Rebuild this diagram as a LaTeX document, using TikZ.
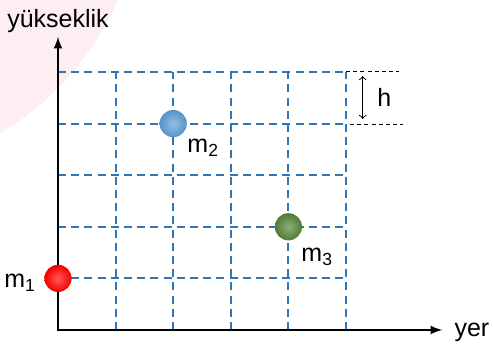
\documentclass[tikz,border=0pt]{standalone}
\usepackage{fontspec}
\setmainfont{Liberation Sans}
\definecolor{gridblue}{RGB}{46,117,182}
\definecolor{ballred}{RGB}{255,0,0}
\definecolor{ballblue}{RGB}{91,155,213}
\definecolor{ballgreen}{RGB}{84,130,53}
\definecolor{wmpink}{RGB}{252,238,241}

\begin{document}
\begin{tikzpicture}[x=28.8pt,y=25.8pt,
  every node/.style={font=\fontsize{12.5}{15}\selectfont},
  gridline/.style={gridblue, line width=1pt, dash pattern=on 4pt off 2.6pt},
  ball/.style={circle, minimum size=13.6pt, inner sep=0pt,
    inner color=#1!65!white, outer color=#1!95!black},
  lbl/.style={anchor=base west, inner sep=0pt}]
  \useasboundingbox (-1.007,-0.329) rectangle (7.552,6.395);
  \begin{scope}
    \clip (-1.007,-0.329) rectangle (7.552,6.395);
    \fill[wmpink] (-3.54,8.60) circle[radius=143.5pt];
  \end{scope}
  \draw[gridline, step=1] (0,0) grid (5,5);
  % axes
  \coordinate (O) at (0,0);
  \coordinate (ytip) at (0,5.68);
  \coordinate (xtip) at (6.67,0);
  \draw[line width=1pt, latex-latex] (ytip) -- (O) -- (xtip);
  \node[anchor=base, inner sep=0pt, yshift=4.5pt] (ylab) at (ytip) {yükseklik};
  \node[anchor=base west, inner sep=0pt, xshift=6pt, yshift=-3.5pt] (xlab) at (xtip) {yer};
  % h
  \coordinate (t1) at (5,5);
  \coordinate (t2) at (5.92,5);
  \coordinate (b1) at (5.07,3.98);
  \coordinate (b2) at (5.99,3.98);
  \draw[line width=0.5pt, dash pattern=on 2pt off 1.6pt] (t1) -- (t2);
  \draw[line width=0.5pt, dash pattern=on 2pt off 1.6pt] (b1) -- (b2);
  \coordinate (h1) at (5.29,4.92);
  \coordinate (h2) at (5.29,4.09);
  \draw[<->, line width=0.5pt] (h1) -- (h2);
  \node[lbl] (hlab) at (5.538,4.34) {h};
  % masses
  \node[ball=ballred] (m1) at (0,1) {};
  \node[ball=ballblue] (m2) at (2,4) {};
  \node[ball=ballgreen] (m3) at (4,2) {};
  \node[lbl] (m1lab) at (-0.938,0.814) {m\textsubscript{1}};
  \node[lbl] (m2lab) at (2.24,3.43) {m\textsubscript{2}};
  \node[lbl] (m3lab) at (4.22,1.32) {m\textsubscript{3}};
\end{tikzpicture}
\end{document}
